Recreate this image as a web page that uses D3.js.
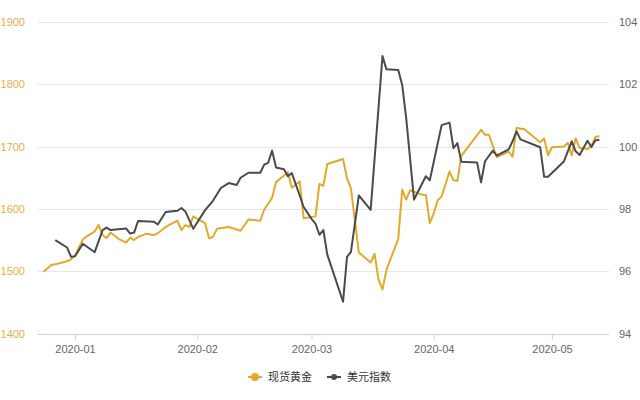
<!DOCTYPE html>
<html><head><meta charset="utf-8">
<script src="https://cdn.jsdelivr.net/npm/d3@7"></script>
<style>
html,body{margin:0;padding:0;background:#fff;}
svg{display:block;font-family:"Noto Sans CJK SC","Noto Sans",sans-serif;}
</style></head>
<body><svg id="c" width="640" height="400"></svg>
<script>
const seriesNames = ["现货黄金", "美元指数"];
const goldDates = ["2019-12-24","2019-12-26","2019-12-27","2019-12-30","2019-12-31","2020-01-01","2020-01-03","2020-01-04","2020-01-06","2020-01-07","2020-01-08","2020-01-09","2020-01-10","2020-01-12","2020-01-14","2020-01-15","2020-01-16","2020-01-17","2020-01-19","2020-01-21","2020-01-22","2020-01-24","2020-01-27","2020-01-28","2020-01-29","2020-01-30","2020-01-31","2020-02-01","2020-02-03","2020-02-04","2020-02-05","2020-02-06","2020-02-09","2020-02-12","2020-02-14","2020-02-17","2020-02-18","2020-02-20","2020-02-21","2020-02-24","2020-02-25","2020-02-27","2020-02-28","2020-03-02","2020-03-03","2020-03-04","2020-03-05","2020-03-09","2020-03-10","2020-03-11","2020-03-13","2020-03-16","2020-03-17","2020-03-18","2020-03-19","2020-03-20","2020-03-23","2020-03-24","2020-03-25","2020-03-26","2020-03-29","2020-03-30","2020-03-31","2020-04-01","2020-04-02","2020-04-03","2020-04-05","2020-04-06","2020-04-07","2020-04-08","2020-04-13","2020-04-14","2020-04-15","2020-04-17","2020-04-20","2020-04-21","2020-04-22","2020-04-24","2020-04-28","2020-04-29","2020-04-30","2020-05-01","2020-05-04","2020-05-05","2020-05-06","2020-05-07","2020-05-08","2020-05-10","2020-05-11","2020-05-12","2020-05-13"];
const goldValues = [1499,1510,1511,1516,1519,1525,1551,1556,1564,1574,1558,1553,1562,1552,1546,1554,1550,1555,1560,1558,1561,1571,1581,1566,1574,1571,1588,1584,1577,1553,1555,1568,1571,1565,1583,1581,1599,1618,1643,1659,1634,1644,1585,1588,1640,1637,1672,1680,1649,1633,1530,1514,1528,1486,1471,1502,1552,1631,1615,1630,1623,1622,1577,1593,1614,1620,1660,1646,1645,1685,1727,1719,1719,1683,1692,1684,1730,1728,1707,1713,1686,1699,1700,1706,1686,1713,1698,1696,1701,1715,1717];
const usdDates = ["2019-12-27","2019-12-30","2019-12-31","2020-01-01","2020-01-03","2020-01-06","2020-01-08","2020-01-09","2020-01-10","2020-01-14","2020-01-15","2020-01-16","2020-01-17","2020-01-21","2020-01-22","2020-01-24","2020-01-27","2020-01-28","2020-01-29","2020-01-31","2020-02-03","2020-02-05","2020-02-07","2020-02-09","2020-02-11","2020-02-12","2020-02-14","2020-02-17","2020-02-18","2020-02-19","2020-02-20","2020-02-21","2020-02-23","2020-02-24","2020-02-25","2020-02-27","2020-02-28","2020-03-01","2020-03-02","2020-03-03","2020-03-04","2020-03-05","2020-03-09","2020-03-10","2020-03-11","2020-03-13","2020-03-16","2020-03-19","2020-03-20","2020-03-23","2020-03-24","2020-03-25","2020-03-27","2020-03-30","2020-03-31","2020-04-03","2020-04-05","2020-04-06","2020-04-07","2020-04-08","2020-04-12","2020-04-13","2020-04-14","2020-04-16","2020-04-17","2020-04-20","2020-04-21","2020-04-22","2020-04-23","2020-04-28","2020-04-29","2020-04-30","2020-05-04","2020-05-06","2020-05-07","2020-05-08","2020-05-10","2020-05-11","2020-05-12","2020-05-13"];
const usdValues = [97.00,96.76,96.46,96.48,96.88,96.61,97.32,97.40,97.32,97.37,97.21,97.24,97.61,97.59,97.50,97.90,97.94,98.03,97.92,97.36,97.96,98.26,98.67,98.83,98.77,99.00,99.16,99.16,99.42,99.48,99.87,99.33,99.27,99.05,99.15,98.43,98.06,97.68,97.53,97.17,97.32,96.53,95.02,96.46,96.62,98.43,97.97,102.91,102.48,102.46,101.98,100.93,98.30,99.05,98.92,100.69,100.77,99.95,100.11,99.51,99.49,98.85,99.53,99.87,99.71,99.91,100.17,100.49,100.23,99.98,99.03,99.03,99.52,100.17,99.85,99.73,100.19,99.99,100.20,100.21];
const leftTicks = [1400,1500,1600,1700,1800,1900];
const rightTicks = [94,96,98,100,102,104];
const monthTicks = ["2020-01-01","2020-02-01","2020-03-01","2020-04-01","2020-05-01"];

const goldColor = "#e3a92a", usdColor = "#4b4b4b";
const parse = d3.isoParse;
const svg = d3.select("#c");
const L = 38, R = 609, T = 22, B = 333.5;

const x = d3.scaleTime()
  .domain([parse("2019-12-22T14:45:00"), parse("2020-05-15T11:00:00")])
  .range([L, R]);
const yL = d3.scaleLinear().domain([1400,1900]).range([B, T]);
const yR = d3.scaleLinear().domain([94,104]).range([B, T]);

// grid
svg.append("g").selectAll("line").data(leftTicks.slice(1)).join("line")
  .attr("x1", L).attr("x2", R)
  .attr("y1", d => Math.round(yL(d)) + 0.5).attr("y2", d => Math.round(yL(d)) + 0.5)
  .attr("stroke", "#e6e6e6").attr("stroke-width", 1);

// left axis labels
const gl = svg.append("g").attr("transform", `translate(${L},0)`)
  .call(d3.axisLeft(yL).tickValues(leftTicks).tickSize(0).tickPadding(13).tickFormat(d3.format("d")));
gl.select(".domain").remove();
gl.selectAll("text").attr("fill", "#e3b043").style("font-size", "11px").style("font-family", "inherit");

// right axis labels
const gr = svg.append("g").attr("transform", `translate(${R},0)`)
  .call(d3.axisRight(yR).tickValues(rightTicks).tickSize(0).tickPadding(10).tickFormat(d3.format("d")));
gr.select(".domain").remove();
gr.selectAll("text").attr("fill", "#666").style("font-size", "11px").style("font-family", "inherit");

// bottom axis
const gb = svg.append("g").attr("transform", `translate(0,${Math.round(B)+0.5})`)
  .call(d3.axisBottom(x).tickValues(monthTicks.map(parse)).tickSize(5).tickSizeOuter(0).tickPadding(6).tickFormat(d3.timeFormat("%Y-%m")));
gb.select(".domain").attr("stroke", "#c5d3e8").attr("d", `M${L},0H${R}`);
gb.selectAll(".tick line").attr("stroke", "#c5d3e8");
gb.selectAll("text").attr("fill", "#666").style("font-size", "11px").style("font-family", "inherit");

// lines
const goldData = goldDates.map((d,i) => ({t: parse(d), v: goldValues[i]}));
const usdData = usdDates.map((d,i) => ({t: parse(d), v: usdValues[i]}));
svg.append("path").datum(goldData)
  .attr("fill","none").attr("stroke", goldColor).attr("stroke-width", 2).attr("stroke-linejoin","round")
  .attr("d", d3.line().x(d => x(d.t)).y(d => yL(d.v)));
svg.append("path").datum(usdData)
  .attr("fill","none").attr("stroke", usdColor).attr("stroke-width", 2).attr("stroke-linejoin","round")
  .attr("d", d3.line().x(d => x(d.t)).y(d => yR(d.v)));

// legend
const legend = [
  {name: seriesNames[0], color: goldColor, x: 248, r: 4},
  {name: seriesNames[1], color: usdColor, x: 327, r: 3}
];
const lg = svg.append("g");
legend.forEach(it => {
  const g = lg.append("g").attr("transform", `translate(${it.x},377)`);
  g.append("line").attr("x1",0).attr("x2",14).attr("y1",0).attr("y2",0).attr("stroke", it.color).attr("stroke-width",2);
  g.append("circle").attr("cx",7).attr("cy",0).attr("r", it.r).attr("fill", it.color);
  g.append("text").attr("x",20).attr("y",0).attr("dy","0.35em").attr("fill","#333").style("font-size","11px").text(it.name);
});
</script></body></html>
